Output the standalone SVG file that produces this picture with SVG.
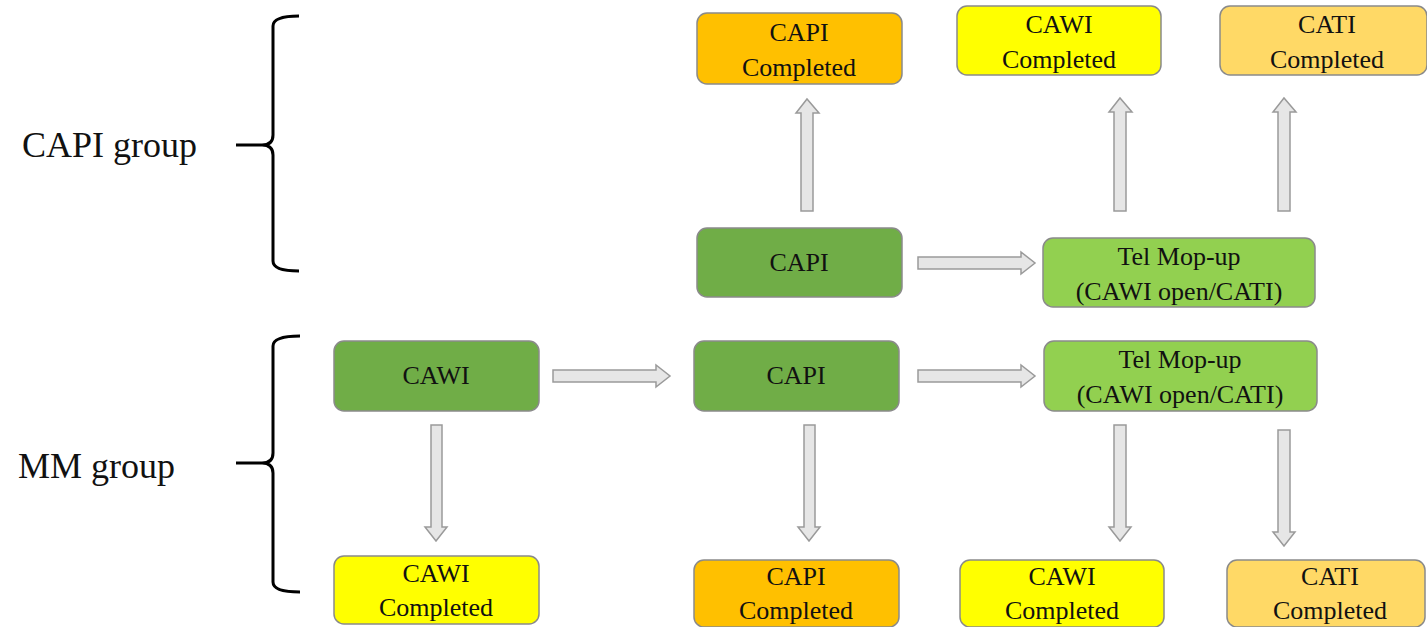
<svg xmlns="http://www.w3.org/2000/svg" width="1427" height="627" viewBox="0 0 1427 627">
<style>
.box{stroke:#8a8a8a;stroke-width:1.5}
.dg{fill:#70AD47}.lg{fill:#92D050}.or{fill:#FFC000}.ye{fill:#FFFF00}.lo{fill:#FFD966}
.t{font-family:"Liberation Serif","Times New Roman",serif;font-size:26px;fill:#111;text-anchor:middle}
.g{font-family:"Liberation Serif","Times New Roman",serif;font-size:36px;fill:#111}
.arr{fill:#E6E6E6;stroke:#9a9a9a;stroke-width:1.5;stroke-linejoin:miter}
.br{fill:none;stroke:#000;stroke-width:3}
</style>
<rect width="1427" height="627" fill="#fff"/>
<g id="capi-group-label"><text class="g" x="22" y="157">CAPI group</text>
<path class="br" d="M299,16 Q273,16 273,26 L273,135 Q273,145 262,145 L236,145 M262,145 Q273,145 273,155 L273,261 Q273,271 299,271"/></g>
<g id="mm-group-label"><text class="g" x="18" y="478">MM group</text>
<path class="br" d="M300,336 Q273,336 273,346 L273,453 Q273,463 262,463 L236,463 M262,463 Q273,463 273,473 L273,582 Q273,592 300,592"/></g>

<g id="connectors">
<polygon class="arr" points="801,211 801,113 796,113 807,99 819,113 813,113 813,211"/>
<polygon class="arr" points="1114,211 1114,112 1109,112 1120,98 1132,112 1126,112 1126,211"/>
<polygon class="arr" points="1278,211 1278,112 1273,112 1284,98 1296,112 1290,112 1290,211"/>
<polygon class="arr" points="918,257 1021,257 1021,252 1035,263 1021,274 1021,269 918,269"/>
<polygon class="arr" points="553,370 656,370 656,365 670,376 656,387 656,382 553,382"/>
<polygon class="arr" points="918,370 1021,370 1021,365 1035,376 1021,387 1021,382 918,382"/>
<polygon class="arr" points="431,425 442,425 442,527 447,527 436,541 425,527 431,527"/>
<polygon class="arr" points="804,425 815,425 815,527 820,527 809,541 798,527 804,527"/>
<polygon class="arr" points="1114,425 1126,425 1126,527 1131,527 1120,541 1109,527 1114,527"/>
<polygon class="arr" points="1278,430 1290,430 1290,532 1295,532 1284,546 1273,532 1278,532"/>
</g>

<g id="top-capi-completed"><rect class="box or" x="697" y="13" width="205" height="71" rx="10"/><text class="t" x="799" y="41">CAPI</text><text class="t" x="799" y="76">Completed</text></g>
<g id="top-cawi-completed"><rect class="box ye" x="957" y="6" width="204" height="69" rx="10"/><text class="t" x="1059" y="33">CAWI</text><text class="t" x="1059" y="68">Completed</text></g>
<g id="top-cati-completed"><rect class="box lo" x="1220" y="6" width="207" height="69" rx="10"/><text class="t" x="1327" y="33">CATI</text><text class="t" x="1327" y="68">Completed</text></g>

<g id="capi-g-capi"><rect class="box dg" x="697" y="228" width="205" height="69" rx="10"/><text class="t" x="799" y="271">CAPI</text></g>
<g id="capi-g-tel"><rect class="box lg" x="1043" y="238" width="272" height="69" rx="10"/><text class="t" x="1179" y="265">Tel Mop-up</text><text class="t" x="1179" y="300">(CAWI open/CATI)</text></g>

<g id="mm-cawi"><rect class="box dg" x="334" y="341" width="205" height="70" rx="10"/><text class="t" x="436" y="384">CAWI</text></g>
<g id="mm-capi"><rect class="box dg" x="694" y="341" width="205" height="70" rx="10"/><text class="t" x="796" y="384">CAPI</text></g>
<g id="mm-tel"><rect class="box lg" x="1044" y="341" width="273" height="70" rx="10"/><text class="t" x="1180" y="368">Tel Mop-up</text><text class="t" x="1180" y="403">(CAWI open/CATI)</text></g>

<g id="bot-cawi-completed-1"><rect class="box ye" x="334" y="556" width="205" height="68" rx="10"/><text class="t" x="436" y="582">CAWI</text><text class="t" x="436" y="616">Completed</text></g>
<g id="bot-capi-completed"><rect class="box or" x="694" y="560" width="205" height="67" rx="10"/><text class="t" x="796" y="585">CAPI</text><text class="t" x="796" y="619">Completed</text></g>
<g id="bot-cawi-completed-2"><rect class="box ye" x="960" y="560" width="204" height="67" rx="10"/><text class="t" x="1062" y="585">CAWI</text><text class="t" x="1062" y="619">Completed</text></g>
<g id="bot-cati-completed"><rect class="box lo" x="1227" y="560" width="198" height="67" rx="10"/><text class="t" x="1330" y="585">CATI</text><text class="t" x="1330" y="619">Completed</text></g>
</svg>
